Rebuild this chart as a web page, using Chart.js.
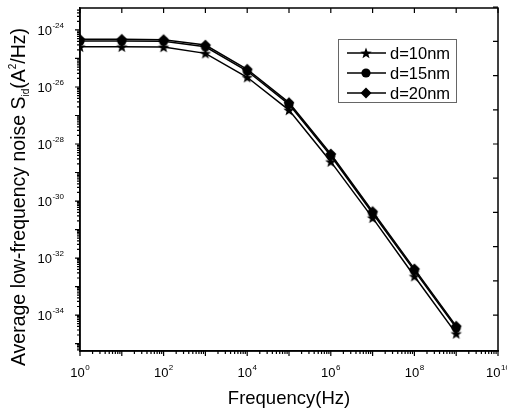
<!DOCTYPE html>
<html>
<head>
<meta charset="utf-8">
<script src="https://cdn.jsdelivr.net/npm/chart.js@4.4.1/dist/chart.umd.min.js"></script>
<style>
  html, body { margin: 0; padding: 0; background: #fff; }
  canvas { display: block; }
</style>
</head>
<body>
<canvas id="grafico" width="507" height="414"></canvas>
<script>
// frequency points (Hz)
const frequencies = [1, 10, 100, 1e3, 1e4, 1e5, 1e6, 1e7, 1e8, 1e9];

// noise values S_id (A^2/Hz)
const noiseD10 = [2.57e-25, 2.57e-25, 2.51e-25, 1.51e-25, 2.19e-26, 1.55e-27, 2.40e-29, 2.57e-31, 2.29e-33, 2.24e-35];
const noiseD15 = [4.07e-25, 4.07e-25, 3.98e-25, 2.57e-25, 3.63e-26, 2.45e-27, 3.89e-29, 3.72e-31, 3.63e-33, 3.55e-35];
const noiseD20 = [4.68e-25, 4.68e-25, 4.57e-25, 2.95e-25, 4.17e-26, 2.82e-27, 4.47e-29, 4.27e-31, 4.17e-33, 4.07e-35];

const seriesLabels = ["d=10nm", "d=15nm", "d=20nm"];

// labelled decades (exponents)
const xTickExps = [0, 2, 4, 6, 8, 10];
const yTickExps = [-34, -32, -30, -28, -26, -24];

const FONT = "'Liberation Sans', Arial, sans-serif";

// marcadores desenhados num canvas pequeno
function makeMarker(type) {
  const c = document.createElement("canvas");
  c.width = 14; c.height = 14;
  const g = c.getContext("2d");
  g.fillStyle = "#000";
  g.beginPath();
  if (type === "star") {
    for (let i = 0; i < 10; i++) {
      const r = i % 2 === 0 ? 6 : 2.5;
      const a = -Math.PI / 2 + i * Math.PI / 5;
      const px = 7 + r * Math.cos(a), py = 7.5 + r * Math.sin(a);
      if (i === 0) g.moveTo(px, py); else g.lineTo(px, py);
    }
    g.closePath();
  } else if (type === "circle") {
    g.arc(7, 7, 4.6, 0, Math.PI * 2);
  } else {
    g.moveTo(7, 1.5); g.lineTo(12.5, 7); g.lineTo(7, 12.5); g.lineTo(1.5, 7);
    g.closePath();
  }
  g.fill();
  return c;
}
const markers = [makeMarker("star"), makeMarker("circle"), makeMarker("diamond")];

function toPoints(values) {
  return frequencies.map((f, i) => ({ x: f, y: values[i] }));
}

const allSeries = [noiseD10, noiseD15, noiseD20];
const datasets = allSeries.map((vals, i) => ({
  label: seriesLabels[i],
  data: toPoints(vals),
  borderColor: "#000",
  backgroundColor: "#000",
  borderWidth: 1.5,
  pointStyle: markers[i],
  pointRadius: 5,
  tension: 0,
}));

const yMin = Math.pow(10, -35.26);
const yMax = Math.pow(10, -23.23);

// "10" + expoente pequeno
function drawPow(ctx, exp, x, baseline, align) {
  ctx.font = "13px " + FONT;
  const wBase = ctx.measureText("10").width;
  ctx.font = "8px " + FONT;
  const wExp = ctx.measureText(String(exp)).width;
  const total = wBase + wExp + 0.5;
  let left = align === "right" ? x - total : x - total / 2;
  ctx.font = "13px " + FONT;
  ctx.fillText("10", left, baseline);
  ctx.font = "8px " + FONT;
  ctx.fillText(String(exp), left + wBase + 0.5, baseline - 7);
}

// moldura, ticks, rótulos, título do eixo y e legenda
const decorations = {
  id: "decorations",
  afterDraw(chart) {
    const { ctx, chartArea: a, scales } = chart;
    const xs = scales.x, ys = scales.y;
    ctx.save();
    ctx.strokeStyle = "#000";
    ctx.lineWidth = 1.5;
    ctx.strokeRect(a.left, a.top, a.right - a.left, a.bottom - a.top);

    ctx.lineWidth = 1.2;
    ctx.beginPath();
    // bottom axis (outward) + top axis (inward, major only)
    for (let e = 0; e <= 10; e++) {
      for (let m = 1; m <= 9; m++) {
        if (e === 10 && m > 1) break;
        const px = xs.getPixelForValue(m * Math.pow(10, e));
        const len = m === 1 ? 5 : 3;
        ctx.moveTo(px, a.bottom); ctx.lineTo(px, a.bottom + len);
        if (m === 1) { ctx.moveTo(px, a.top); ctx.lineTo(px, a.top + 5); }
      }
    }
    // left axis (outward)
    for (let e = -36; e <= -23; e++) {
      for (let m = 1; m <= 9; m++) {
        const v = m * Math.pow(10, e);
        if (v < yMin || v > yMax) continue;
        const py = ys.getPixelForValue(v);
        const len = m === 1 ? 5 : 3;
        ctx.moveTo(a.left, py); ctx.lineTo(a.left - len, py);
      }
    }
    // right axis (inward)
    for (let k = 0; k <= 9; k++) {
      const py = ys.getPixelForValue(Math.pow(10, -34 + 1.2 * k));
      ctx.moveTo(a.right, py); ctx.lineTo(a.right - 5, py);
    }
    ctx.stroke();

    // tick labels
    ctx.fillStyle = "#000";
    ctx.textBaseline = "alphabetic";
    ctx.textAlign = "left";
    xs.ticks.forEach(t => {
      const e = Math.round(Math.log10(t.value));
      drawPow(ctx, e, xs.getPixelForValue(t.value), a.bottom + 26, "center");
    });
    ys.ticks.forEach(t => {
      const e = Math.round(Math.log10(t.value));
      drawPow(ctx, e, a.left - 16, ys.getPixelForValue(t.value) + 5, "right");
    });

    // y axis title with sub/superscript
    const parts = [
      { t: "Average low-frequency noise S", s: 19.5, dy: 0 },
      { t: "id", s: 10, dy: 4 },
      { t: "(A", s: 19.5, dy: 0 },
      { t: "2", s: 10, dy: -9 },
      { t: "/Hz)", s: 19.5, dy: 0 },
    ];
    let total = 0;
    parts.forEach(p => { ctx.font = p.s + "px " + FONT; p.w = ctx.measureText(p.t).width; total += p.w; });
    ctx.translate(25, 197);
    ctx.rotate(-Math.PI / 2);
    let cx = -total / 2;
    parts.forEach(p => {
      ctx.font = p.s + "px " + FONT;
      ctx.fillText(p.t, cx, p.dy);
      cx += p.w;
    });
    ctx.restore();

    // legenda
    ctx.save();
    ctx.strokeStyle = "#666";
    ctx.lineWidth = 1;
    ctx.strokeRect(338.5, 39.5, 118, 63);
    ctx.font = "16.5px " + FONT;
    ctx.textBaseline = "middle";
    ctx.fillStyle = "#000";
    chart.data.datasets.forEach((ds, i) => {
      const y = 53 + i * 20;
      ctx.strokeStyle = "#000";
      ctx.lineWidth = 1.5;
      ctx.beginPath();
      ctx.moveTo(347, y); ctx.lineTo(386, y);
      ctx.stroke();
      ctx.drawImage(ds.pointStyle, 366 - 7, y - 7);
      ctx.fillText(ds.label, 390, y + 1);
    });
    ctx.restore();
  },
};

new Chart(document.getElementById("grafico"), {
  type: "line",
  data: { datasets },
  options: {
    responsive: false,
    animation: false,
    layout: { padding: { top: 8, right: 9, left: 0, bottom: 0 } },
    plugins: {
      legend: { display: false },
      tooltip: { enabled: false },
    },
    scales: {
      x: {
        type: "logarithmic",
        min: 1,
        max: 1e10,
        grid: { display: false, drawTicks: false },
        border: { display: true, color: "#000", width: 1.5 },
        afterBuildTicks: (scale) => { scale.ticks = xTickExps.map(e => ({ value: Math.pow(10, e) })); },
        afterFit: (scale) => { scale.height = 63; scale.paddingLeft = 0; scale.paddingRight = 0; },
        ticks: { display: false, autoSkip: false, maxRotation: 0 },
        title: {
          display: true,
          text: "Frequency(Hz)",
          color: "#000",
          font: { family: FONT, size: 18.5 },
          padding: { top: 6, bottom: 4 },
        },
      },
      y: {
        type: "logarithmic",
        min: yMin,
        max: yMax,
        grid: { display: false, drawTicks: false },
        border: { display: true, color: "#000", width: 1.5 },
        afterBuildTicks: (scale) => { scale.ticks = yTickExps.map(e => ({ value: Math.pow(10, e) })); },
        afterFit: (scale) => { scale.width = 80; scale.paddingTop = 0; scale.paddingBottom = 0; },
        ticks: { display: false, autoSkip: false },
      },
    },
  },
  plugins: [decorations],
});
</script>
</body>
</html>
